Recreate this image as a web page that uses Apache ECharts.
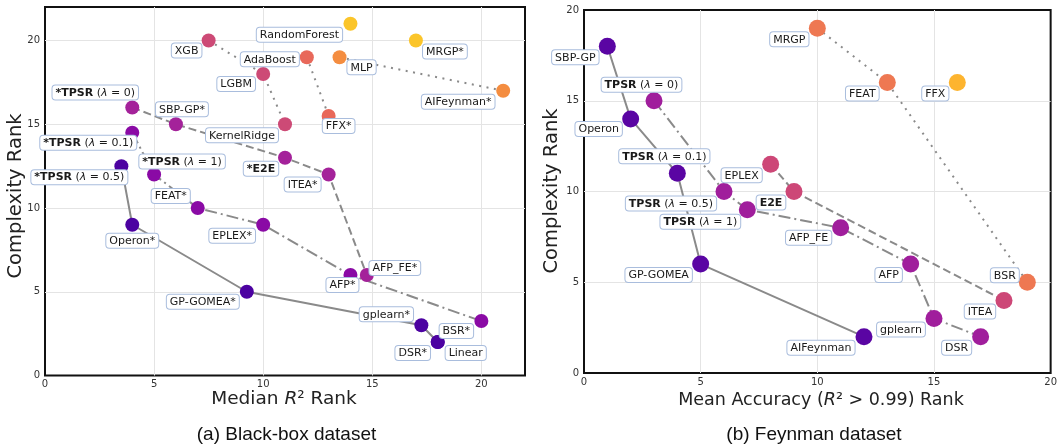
<!DOCTYPE html>
<html><head><meta charset="utf-8">
<script src="https://cdn.jsdelivr.net/npm/echarts@6/dist/echarts.min.js"></script>
<style>html,body{margin:0;padding:0;background:#fff}#c{width:1060px;height:444px}</style>
</head><body><div id="c"></div>
<script>
// ---------- (a) Black-box dataset ----------
const bbNames = ['*TPSR (λ = 0.5)', 'Operon*', 'GP-GOMEA*', 'gplearn*', 'DSR*', 'Linear',
  '*TPSR (λ = 0.1)', '*TPSR (λ = 1)', 'FEAT*', 'EPLEX*', 'AFP*', 'BSR*',
  '*TPSR (λ = 0)', 'SBP-GP*', '*E2E', 'ITEA*', 'AFP_FE*',
  'XGB', 'LGBM', 'KernelRidge', 'AdaBoost', 'FFX*', 'MLP', 'AIFeynman*', 'RandomForest', 'MRGP*'];
const bbR2Rank = [3.5, 4, 9.25, 17.25, 18, 18, 4, 5, 7, 10, 14, 20, 4, 6, 11, 13, 14.75, 7.5, 10, 11, 12, 13, 13.5, 21, 14, 17];
const bbComplexity = [12.5, 9, 5, 3, 2, 2, 14.5, 12, 10, 9, 6, 3.25, 16, 15, 13, 12, 6, 20, 18, 15, 19, 15.5, 19, 17, 21, 20];
const bbFront = [1, 1, 1, 1, 1, 1, 2, 2, 2, 2, 2, 2, 3, 3, 3, 3, 3, 4, 4, 4, 5, 5, 6, 6, 7, 7];
const bbXTicks = [0, 5, 10, 15, 20];
const bbYTicks = [0, 5, 10, 15, 20];

// ---------- (b) Feynman dataset ----------
const fyNames = ['SBP-GP', 'Operon', 'TPSR (λ = 0.1)', 'GP-GOMEA', 'AIFeynman',
  'TPSR (λ = 0)', 'TPSR (λ = 0.5)', 'TPSR (λ = 1)', 'AFP_FE', 'AFP', 'gplearn', 'DSR',
  'EPLEX', 'E2E', 'ITEA', 'MRGP', 'FEAT', 'BSR', 'FFX'];
const fyAccRank = [1, 2, 4, 5, 12, 3, 6, 7, 11, 14, 15, 17, 8, 9, 18, 10, 13, 19, 16];
const fyComplexity = [18, 14, 11, 6, 2, 15, 10, 9, 8, 6, 3, 2, 11.5, 10, 4, 19, 16, 5, 16];
const fyFront = [1, 1, 1, 1, 1, 2, 2, 2, 2, 2, 2, 2, 3, 3, 3, 4, 4, 4, 5];
const fyXTicks = [0, 5, 10, 15, 20];
const fyYTicks = [0, 5, 10, 15, 20];

// ---------- styling (not data) ----------
const FONT = '"DejaVu Sans", sans-serif';
const CAPFONT = '"Liberation Sans", Arial, sans-serif';
const bbColors = {1: '#4c02a1', 2: '#8a0aa5', 3: '#a4229a', 4: '#cd4a76', 5: '#e8685a', 6: '#f48d40', 7: '#fbc52a'};
const fyColors = {1: '#5a05a3', 2: '#a01e9c', 3: '#cd4777', 4: '#ee7852', 5: '#fdb42f'};
const lineTypes = {1: 'solid', 2: [12, 4, 2, 4], 3: [8, 4], 4: [2, 5.5], 5: [2, 5.5], 6: [2, 5.5]};
const bbLineFronts = [1, 2, 3, 4, 5, 6];
const fyLineFronts = [1, 2, 3, 4];
const bbOffsets = {
  'XGB': [-22, 10], '*TPSR (λ = 0)': [-37, -15], 'SBP-GP*': [6, -15], 'KernelRidge': [-43, 11],
  '*TPSR (λ = 0.1)': [-44, 10], '*TPSR (λ = 1)': [28, -13], '*TPSR (λ = 0.5)': [-42, 11],
  'FEAT*': [-27, -12], '*E2E': [-24, 11], 'LGBM': [-27, 10], 'AdaBoost': [-37, 2],
  'RandomForest': [-51, 11], 'MRGP*': [29, 11], 'MLP': [22, 10], 'AIFeynman*': [-45, 11],
  'FFX*': [10, 10], 'ITEA*': [-26, 10], 'Operon*': [0, 16], 'EPLEX*': [-31, 11],
  'GP-GOMEA*': [-44, 10], 'AFP_FE*': [28, -7], 'AFP*': [-8, 10], 'gplearn*': [-35, -11],
  'BSR*': [-25, 10], 'DSR*': [-25, 11], 'Linear': [28, 11]
};
const fyOffsets = {
  'SBP-GP': [-32, 11], 'TPSR (λ = 0)': [-12.5, -16], 'Operon': [-32, 10], 'TPSR (λ = 0.1)': [-13, -17],
  'EPLEX': [-29, 11], 'TPSR (λ = 0.5)': [-53, 12], 'TPSR (λ = 1)': [-47, 12], 'E2E': [-23, 11],
  'GP-GOMEA': [-42, 11], 'AFP_FE': [-32, 10], 'AFP': [-22, 11], 'BSR': [-22.5, -7], 'ITEA': [-24, 11],
  'gplearn': [-33, 11], 'DSR': [-24, 11], 'AIFeynman': [-43, 11], 'MRGP': [-28, 11], 'FEAT': [-25, 11], 'FFX': [-22, 11]
};

function fmt(name) {
  const m = name.match(/^(\*?)TPSR \(λ = ([\d.]+)\)$/);
  if (m) return '{b|' + m[1] + 'TPSR} ({i|λ} = ' + m[2] + ')';
  if (/E2E$/.test(name)) return '{b|' + name + '}';
  return name;
}
const labelBase = {
  show: true, position: 'inside', color: '#1a1a1a', fontSize: 11, fontFamily: FONT,
  backgroundColor: '#ffffff', borderColor: '#a9bddd', borderWidth: 1, borderRadius: 3,
  padding: [2, 3, 1, 3],
  formatter: p => fmt(p.name),
  rich: {
    b: {fontWeight: 'bold', fontSize: 11, fontFamily: FONT, color: '#1a1a1a'},
    i: {fontStyle: 'italic', fontSize: 11, fontFamily: FONT, color: '#1a1a1a'}
  }
};

function buildSeries(idx, names, xs, ys, fronts, colors, offsets, lineFronts, size) {
  const out = [];
  lineFronts.forEach(f => {
    const pts = [];
    names.forEach((n, i) => { if (fronts[i] === f) pts.push([xs[i], ys[i]]); });
    pts.sort((a, b) => a[0] - b[0] || b[1] - a[1]);
    out.push({
      type: 'line', xAxisIndex: idx, yAxisIndex: idx, data: pts, symbol: 'none', silent: true, z: 2,
      lineStyle: {color: '#8a8a8a', width: 2, type: lineTypes[f]}, animation: false
    });
  });
  out.push({
    type: 'scatter', xAxisIndex: idx, yAxisIndex: idx, symbolSize: size, z: 3, silent: true, animation: false,
    labelLayout: function (p) {
      const o = offsets[names[p.dataIndex]] || [0, 0];
      return {dx: o[0], dy: o[1], hideOverlap: false};
    },
    label: labelBase,
    data: names.map((n, i) => ({
      name: n, value: [xs[i], ys[i]],
      itemStyle: {color: colors[fronts[i]], opacity: 1}
    }))
  });
  return out;
}

function xAxis(idx, max, ticks) {
  return {
    type: 'value', gridIndex: idx, min: 0, max: max, interval: 5,
    axisLine: {show: false}, axisTick: {show: false},
    axisLabel: {color: '#333', fontSize: 10, fontFamily: FONT, margin: 4,
      formatter: v => ticks.indexOf(v) >= 0 ? String(v) : ''},
    splitLine: {show: true, showMinLine: false, showMaxLine: false, lineStyle: {color: '#e4e4e4', width: 1}}
  };
}
function yAxis(idx, max, ticks) {
  return {
    type: 'value', gridIndex: idx, min: 0, max: max, interval: 5,
    axisLine: {show: false}, axisTick: {show: false},
    axisLabel: {color: '#333', fontSize: 10, fontFamily: FONT, margin: 5,
      formatter: v => ticks.indexOf(v) >= 0 ? String(v) : ''},
    splitLine: {show: true, showMinLine: false, showMaxLine: false, lineStyle: {color: '#e4e4e4', width: 1}}
  };
}

function titleRich(size) {
  return {
    n: {fontSize: size, fontFamily: FONT, color: '#222'},
    i: {fontSize: size, fontFamily: FONT, fontStyle: 'italic', color: '#222'}
  };
}

const chart = echarts.init(document.getElementById('c'), null, {renderer: 'canvas'});
chart.setOption({
  animation: false,
  backgroundColor: '#ffffff',
  grid: [
    {left: 45, top: 7, right: 535, bottom: 68.5, show: true, borderColor: '#111', borderWidth: 2, containLabel: false},
    {left: 584, top: 10, right: 3, bottom: 71, show: true, borderColor: '#111', borderWidth: 2, containLabel: false}
  ],
  xAxis: [xAxis(0, 22, bbXTicks), xAxis(1, 20, fyXTicks)],
  yAxis: [yAxis(0, 22, bbYTicks), yAxis(1, 20, fyYTicks)],
  series: [].concat(
    buildSeries(0, bbNames, bbR2Rank, bbComplexity, bbFront, bbColors, bbOffsets, bbLineFronts, 14),
    buildSeries(1, fyNames, fyAccRank, fyComplexity, fyFront, fyColors, fyOffsets, fyLineFronts, 17)
  ),
  graphic: [
    {type: 'text', x: 16, y: 196, rotation: Math.PI / 2, style: {text: 'Complexity Rank', fontSize: 19.5, fontFamily: FONT, fill: '#222', align: 'center', verticalAlign: 'middle'}},
    {type: 'text', x: 552, y: 191, rotation: Math.PI / 2, style: {text: 'Complexity Rank', fontSize: 19.5, fontFamily: FONT, fill: '#222', align: 'center', verticalAlign: 'middle'}},
    {type: 'text', x: 284, y: 399, style: {text: '{n|Median }{i|R}{n|² Rank}', rich: titleRich(18.5), fill: '#222', align: 'center', verticalAlign: 'middle'}},
    {type: 'text', x: 821, y: 400, style: {text: '{n|Mean Accuracy (}{i|R}{n|² > 0.99) Rank}', rich: titleRich(17.5), fill: '#222', align: 'center', verticalAlign: 'middle'}},
    {type: 'text', x: 286.5, y: 435, style: {text: '(a) Black-box dataset', fontSize: 19, fontFamily: CAPFONT, fill: '#111', align: 'center', verticalAlign: 'middle'}},
    {type: 'text', x: 814, y: 435, style: {text: '(b) Feynman dataset', fontSize: 19, fontFamily: CAPFONT, fill: '#111', align: 'center', verticalAlign: 'middle'}}
  ]
});
</script></body></html>
